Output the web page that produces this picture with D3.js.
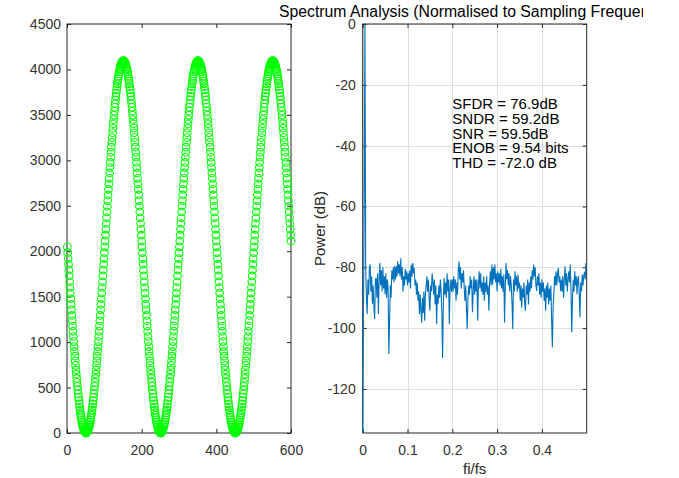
<!DOCTYPE html>
<html lang="en">
<head>
<meta charset="utf-8">
<title>ADC spectrum</title>
<script src="https://cdn.jsdelivr.net/npm/d3@7/dist/d3.min.js"></script>
<style>
  body { margin: 0; background: #fff; }
  text { font-family: "Liberation Sans", Arial, Helvetica, sans-serif; }
</style>
</head>
<body>
<div id="chart"></div>
<script>
// ADC output codes, one per sample (sample n plotted at x = n)
var codes = [
  2048,1984,1919,1855,1791,1728,1664,1601,1539,1477,1415,1355,1294,1235,1176,1119,1062,1006,951,897,845,793,743,694,647,601,556,513,471,431,392,355,320,286,254,224,196,169,145,122,101,82,65,50,37,26,17,10,5,2,1,
  2,5,10,17,26,37,50,65,82,101,122,145,169,196,224,254,286,320,355,392,431,471,513,556,601,647,694,743,793,845,897,951,1006,1062,1119,1176,1235,1294,1355,1415,1477,1539,1601,1664,1728,1791,1855,1919,1984,
  2048,2112,2177,2241,2305,2368,2432,2495,2557,2619,2681,2741,2802,2861,2920,2977,3034,3090,3145,3199,3251,3303,3353,3402,3449,3495,3540,3583,3625,3665,3704,3741,3776,3810,3842,3872,3900,3927,3951,3974,3995,4014,4031,4046,4059,4070,4079,4086,4091,4094,4095,
  4094,4091,4086,4079,4070,4059,4046,4031,4014,3995,3974,3951,3927,3900,3872,3842,3810,3776,3741,3704,3665,3625,3583,3540,3495,3449,3402,3353,3303,3251,3199,3145,3090,3034,2977,2920,2861,2802,2741,2681,2619,2557,2495,2432,2368,2305,2241,2177,2112,
  2048,1984,1919,1855,1791,1728,1664,1601,1539,1477,1415,1355,1294,1235,1176,1119,1062,1006,951,897,845,793,743,694,647,601,556,513,471,431,392,355,320,286,254,224,196,169,145,122,101,82,65,50,37,26,17,10,5,2,1,
  2,5,10,17,26,37,50,65,82,101,122,145,169,196,224,254,286,320,355,392,431,471,513,556,601,647,694,743,793,845,897,951,1006,1062,1119,1176,1235,1294,1355,1415,1477,1539,1601,1664,1728,1791,1855,1919,1984,
  2048,2112,2177,2241,2305,2368,2432,2495,2557,2619,2681,2741,2802,2861,2920,2977,3034,3090,3145,3199,3251,3303,3353,3402,3449,3495,3540,3583,3625,3665,3704,3741,3776,3810,3842,3872,3900,3927,3951,3974,3995,4014,4031,4046,4059,4070,4079,4086,4091,4094,4095,
  4094,4091,4086,4079,4070,4059,4046,4031,4014,3995,3974,3951,3927,3900,3872,3842,3810,3776,3741,3704,3665,3625,3583,3540,3495,3449,3402,3353,3303,3251,3199,3145,3090,3034,2977,2920,2861,2802,2741,2681,2619,2557,2495,2432,2368,2305,2241,2177,2112,
  2048,1984,1919,1855,1791,1728,1664,1601,1539,1477,1415,1355,1294,1235,1176,1119,1062,1006,951,897,845,793,743,694,647,601,556,513,471,431,392,355,320,286,254,224,196,169,145,122,101,82,65,50,37,26,17,10,5,2,1,
  2,5,10,17,26,37,50,65,82,101,122,145,169,196,224,254,286,320,355,392,431,471,513,556,601,647,694,743,793,845,897,951,1006,1062,1119,1176,1235,1294,1355,1415,1477,1539,1601,1664,1728,1791,1855,1919,1984,
  2048,2112,2177,2241,2305,2368,2432,2495,2557,2619,2681,2741,2802,2861,2920,2977,3034,3090,3145,3199,3251,3303,3353,3402,3449,3495,3540,3583,3625,3665,3704,3741,3776,3810,3842,3872,3900,3927,3951,3974,3995,4014,4031,4046,4059,4070,4079,4086,4091,4094,4095,
  4094,4091,4086,4079,4070,4059,4046,4031,4014,3995,3974,3951,3927,3900,3872,3842,3810,3776,3741,3704,3665,3625,3583,3540,3495,3449,3402,3353,3303,3251,3199,3145,3090,3034,2977,2920,2861,2802,2741,2681,2619,2557,2495,2432,2368,2305,2241,2177,2112
];

// power per FFT bin (dB), bin k is at fi/fs = k / nfft
var nfft = 600;
var spectrumDb = [
  -134.5, -96, -60, 0, -79.7, -90, -95.4, -84, -89, -80,
  -79.1, -88, -83, -92, -86, -93, -97, -84, -83.5, -90,
  -82, -95.4, -84, -78.6, -86, -81, -88, -80, -87, -83,
  -88.9, -82, -90, -84, -87, -108.5, -97.6, -86, -90, -81,
  -84, -80, -85, -79.5, -84, -79.7, -83, -78, -82, -79,
  -83, -77, -84, -80, -88, -83, -86, -80.5, -84, -81.3,
  -86, -82, -85, -81, -87, -79.1, -83, -78.6, -82, -80.2,
  -86, -84, -89, -85, -91, -88, -95.4, -89, -94, -98.2,
  -90, -95, -88, -97.6, -89, -86, -83, -88, -84, -90,
  -94.3, -86, -88, -82, -85, -89, -84, -92.2, -86, -98.7,
  -89, -92, -86, -90, -84, -88, -95, -109.8, -92, -83.5,
  -89, -85, -90, -82, -88, -84, -98.7, -87, -84, -88,
  -84, -88, -83, -87, -84, -91, -85, -89, -81, -78,
  -84, -80, -87, -82, -85, -81, -87, -91.1, -86, -93.8,
  -100.3, -90, -86, -89, -83, -87, -84, -94.8, -88, -83,
  -89, -84, -88, -84, -97.6, -86, -81.3, -87, -82, -88,
  -85, -89, -83, -91, -85, -88, -83, -89, -86, -94.3,
  -85, -81.3, -86, -79.1, -85.7, -80, -84, -79.1, -85, -82,
  -88, -81.3, -85, -82, -86, -80.5, -87, -83, -88, -82.4,
  -98.2, -86, -78.6, -84, -81, -86, -82, -88, -83, -86,
  -92, -100.3, -84, -88, -81.3, -86, -83, -88, -82.4, -87,
  -85, -91.1, -86, -93.3, -87, -90, -85, -92, -94.3, -86,
  -89, -84, -92.2, -85, -88, -83, -87, -81, -84, -79.1,
  -83, -80, -86, -87.8, -83, -86, -82, -89, -85, -90,
  -84, -88, -85, -91, -87, -94.3, -86, -90, -85, -92.2,
  -87, -91, -86, -97, -106.3, -93, -88.9, -83, -86, -81.3,
  -86, -82, -80.2, -85, -83, -87.8, -84, -88, -83, -90,
  -84, -79.7, -86, -82, -88, -84, -81.3, -85, -79.1, -88,
  -101.4, -90, -84, -88, -81.3, -86, -83, -88.9, -84, -82.9,
  -89, -96.5, -85, -88, -82.4, -86, -83, -81.5, -84, -78.6
];

var sampleTicks = [0, 200, 400, 600];
var codeTicks = [0, 500, 1000, 1500, 2000, 2500, 3000, 3500, 4000, 4500];
var freqTicks = [0, 0.1, 0.2, 0.3, 0.4];
var dbTicks = [-120, -100, -80, -60, -40, -20, 0];
var stats = ["SFDR = 76.9dB", "SNDR = 59.2dB", "SNR = 59.5dB", "ENOB = 9.54 bits", "THD = -72.0 dB"];

var w = 679, h = 478;
var plotTop = 24, plotBottom = 433;
var axisCol = "#262626";

var svg = d3.select("#chart").append("svg")
  .attr("width", w).attr("height", h)
  .style("background", "#fff");

// scales
var xs1 = d3.scaleLinear().domain([0, 600]).range([67, 291]);
var ys1 = d3.scaleLinear().domain([0, 4500]).range([plotBottom, plotTop]);
var xs2 = d3.scaleLinear().domain([0, 0.5]).range([362.7, 586.7]);
var ys2 = d3.scaleLinear().domain([-134.5, 0]).range([plotBottom, plotTop]);

var plain = function(d) { return String(d); };

function styleAxis(g) {
  g.select(".domain").remove();
  g.selectAll("line").attr("stroke", axisCol);
  g.selectAll("text").attr("fill", "#333").style("font-size", "14px");
}

function drawGrid(xs, ys, xt, yt) {
  var grid = svg.append("g").attr("stroke", "#dfdfdf").attr("stroke-width", 1);
  grid.selectAll("line.gx").data(xt).enter().append("line")
    .attr("x1", function(d) { return Math.round(xs(d)) + 0.5; })
    .attr("x2", function(d) { return Math.round(xs(d)) + 0.5; })
    .attr("y1", plotTop).attr("y2", plotBottom);
  grid.selectAll("line.gy").data(yt).enter().append("line")
    .attr("y1", function(d) { return Math.round(ys(d)) + 0.5; })
    .attr("y2", function(d) { return Math.round(ys(d)) + 0.5; })
    .attr("x1", xs.range()[0]).attr("x2", xs.range()[1]);
}

function drawAxes(xs, ys, xt, yt, padY) {
  var x0 = xs.range()[0], x1 = xs.range()[1];
  svg.append("g").attr("transform", "translate(0," + plotBottom + ")")
    .call(d3.axisBottom(xs).tickValues(xt).tickSize(-4).tickPadding(12).tickFormat(plain))
    .call(styleAxis);
  svg.append("g").attr("transform", "translate(0," + plotTop + ")")
    .call(d3.axisTop(xs).tickValues(xt).tickSize(-4).tickFormat(""))
    .call(styleAxis);
  svg.append("g").attr("transform", "translate(" + x0 + ",0)")
    .call(d3.axisLeft(ys).tickValues(yt).tickSize(-4).tickPadding(padY).tickFormat(plain))
    .call(styleAxis);
  svg.append("g").attr("transform", "translate(" + x1 + ",0)")
    .call(d3.axisRight(ys).tickValues(yt).tickSize(-4).tickFormat(""))
    .call(styleAxis);
  svg.append("rect")
    .attr("x", x0).attr("y", plotTop)
    .attr("width", x1 - x0).attr("height", plotBottom - plotTop)
    .attr("fill", "none").attr("stroke", axisCol).attr("stroke-width", 1);
}

// left: time-domain samples
drawAxes(xs1, ys1, sampleTicks, codeTicks, 6);

svg.append("g").selectAll("circle")
  .data(codes)
  .enter()
  .append("circle")
  .attr("cx", function(d, i) { return xs1(i + 1); })
  .attr("cy", function(d) { return ys1(d); })
  .attr("r", 3.8)
  .attr("fill", "none")
  .attr("stroke", "#00ff00")
  .attr("stroke-width", 1.1);

// right: spectrum
drawGrid(xs2, ys2, freqTicks, dbTicks);
drawAxes(xs2, ys2, freqTicks, dbTicks, 7);

var line = d3.line()
  .x(function(d, i) { return xs2(i / nfft); })
  .y(function(d) { return ys2(d); });

svg.append("path")
  .datum(spectrumDb)
  .attr("d", line)
  .attr("fill", "none")
  .attr("stroke", "#0072bd")
  .attr("stroke-width", 1.1);

svg.append("g").selectAll("text")
  .data(stats)
  .enter()
  .append("text")
  .attr("x", xs2(0.2))
  .attr("y", function(d, i) { return ys2(-28) + i * 14.7; })
  .attr("fill", "#000")
  .style("font-size", "15px")
  .text(function(d) { return d; });

// labels
svg.append("text")
  .attr("x", (xs2.range()[0] + xs2.range()[1]) / 2)
  .attr("y", 474)
  .attr("text-anchor", "middle")
  .attr("fill", "#262626")
  .style("font-size", "15px")
  .text("fi/fs");

svg.append("text")
  .attr("transform", "translate(325," + (plotTop + plotBottom) / 2 + ") rotate(-90)")
  .attr("text-anchor", "middle")
  .attr("fill", "#262626")
  .style("font-size", "15px")
  .text("Power (dB)");

svg.append("clipPath").attr("id", "titleClip")
  .append("rect").attr("x", 0).attr("y", 0).attr("width", 643).attr("height", 24);

svg.append("text")
  .attr("clip-path", "url(#titleClip)")
  .attr("x", (xs2.range()[0] + xs2.range()[1]) / 2)
  .attr("y", 17)
  .attr("text-anchor", "middle")
  .attr("fill", "#000")
  .style("font-size", "15.8px")
  .text("Spectrum Analysis (Normalised to Sampling Frequency)");
</script>
</body>
</html>
